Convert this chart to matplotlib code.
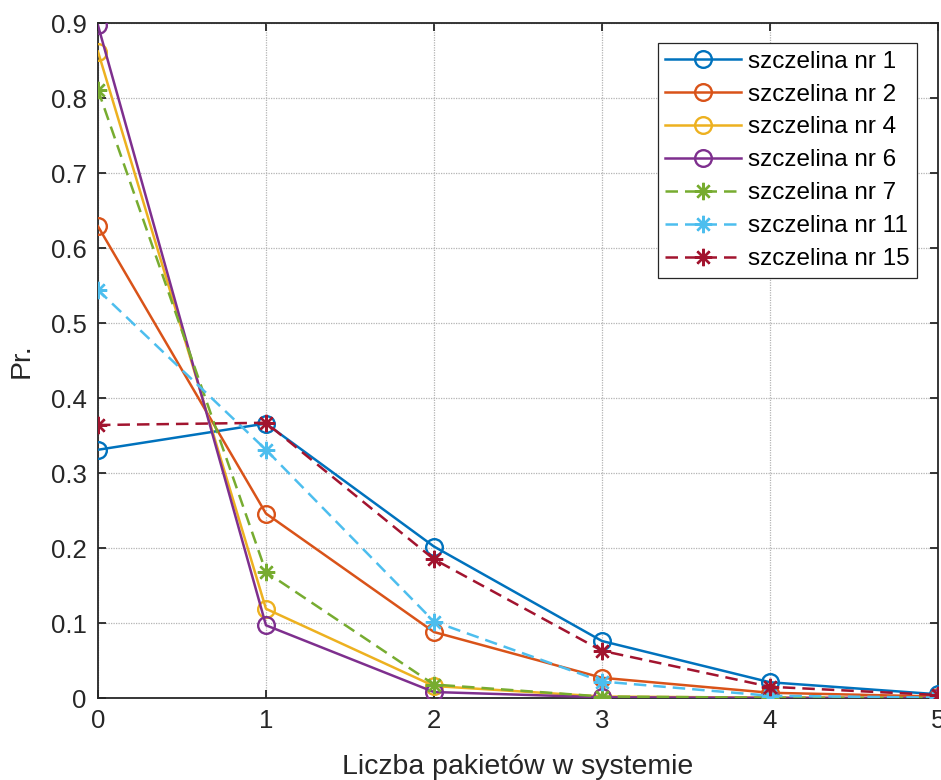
import numpy as np
import matplotlib
matplotlib.use('Agg')
import matplotlib.pyplot as plt
from matplotlib.ticker import FuncFormatter

plt.rcParams['font.family'] = ['Liberation Sans', 'DejaVu Sans']

# number of packets in the system
n_packets = [0, 1, 2, 3, 4, 5]

# probability per slot
slot_1 = [0.331, 0.366, 0.202, 0.076, 0.021, 0.005]
slot_2 = [0.629, 0.246, 0.088, 0.027, 0.007, 0.002]
slot_4 = [0.862, 0.119, 0.016, 0.002, 0.0005, 0.0001]
slot_6 = [0.897, 0.097, 0.008, 0.001, 0.0002, 0.0]
slot_7 = [0.811, 0.168, 0.018, 0.002, 0.0004, 0.0001]
slot_11 = [0.544, 0.331, 0.102, 0.022, 0.003, 0.0005]
slot_15 = [0.364, 0.367, 0.185, 0.063, 0.015, 0.004]

labels = ['szczelina nr 1', 'szczelina nr 2', 'szczelina nr 4', 'szczelina nr 6',
          'szczelina nr 7', 'szczelina nr 11', 'szczelina nr 15']

colors = ['#0072BD', '#D95319', '#EDB120', '#7E2F8E', '#77AC30', '#4DBEEE', '#A2142F']

fig = plt.figure(figsize=(9.41, 7.80), dpi=100)
ax = fig.add_axes([0.1041, 0.1051, 0.8927, 0.8654])

series = [slot_1, slot_2, slot_4, slot_6, slot_7, slot_11, slot_15]
for i, (vals, lab, col) in enumerate(zip(series, labels, colors)):
    if i < 4:
        ax.plot(n_packets, vals, '-', color=col, lw=1.8, marker='o', ms=12,
                mfc='none', mew=1.7, label=lab, zorder=3)
    else:
        ax.plot(n_packets, vals, color=col, lw=1.8, ls=(0, (5, 2.8)),
                marker=(8, 2, 0), ms=12.5, mew=1.7, label=lab, zorder=3)

ax.set_xlim(0, 5)
ax.set_ylim(0, 0.9)
ax.set_xticks(range(6))
ax.set_yticks(np.arange(0, 0.91, 0.1))
ax.yaxis.set_major_formatter(FuncFormatter(lambda v, p: '0' if abs(v) < 1e-9 else f'{v:.1f}'))

ax.grid(True, color='#b4b4b4', ls=(0, (1, 1)), lw=0.9)
ax.set_axisbelow(True)
for sp in ax.spines.values():
    sp.set_color('#262626')
    sp.set_linewidth(1.3)
ax.tick_params(direction='in', length=6, width=1.3, colors='#262626',
               labelsize=18.5, top=True, right=True, pad=8)

ax.set_xlabel('Liczba pakietów w systemie', fontsize=20.5, color='#262626', labelpad=15)
ax.set_ylabel('Pr.', fontsize=20.5, color='#262626', labelpad=12)

leg = ax.legend(loc='upper right', bbox_to_anchor=(0.975, 0.970), fontsize=17.5,
                handlelength=3.1, handletextpad=0.3, labelspacing=0.45,
                borderpad=0.3, borderaxespad=0, fancybox=False, framealpha=1)
leg.get_frame().set_edgecolor('#262626')
leg.get_frame().set_linewidth(0.9)

fig.savefig('out.png', dpi=100)
